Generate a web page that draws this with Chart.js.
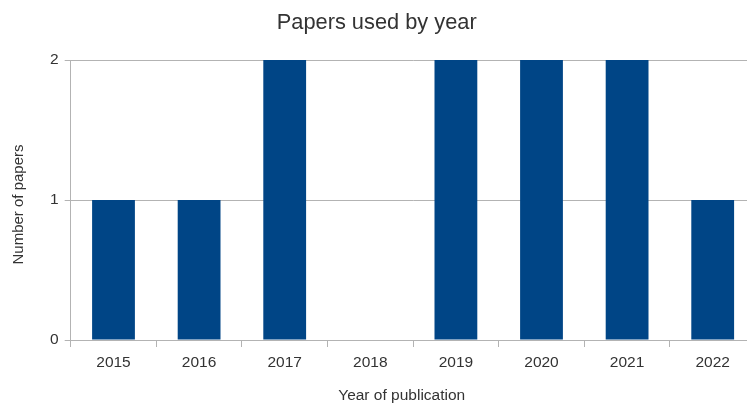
<!DOCTYPE html>
<html>
<head>
<meta charset="utf-8">
<script src="https://cdn.jsdelivr.net/npm/chart.js@4"></script>
<style>
  html, body { margin: 0; padding: 0; background: #fff; overflow: hidden; width: 747px; height: 403px; }
  #wrap { width: 760px; height: 403px; position: relative; }
</style>
</head>
<body>
<div id="wrap"><canvas id="c" width="760" height="403"></canvas></div>
<script>
const categories = ["2015", "2016", "2017", "2018", "2019", "2020", "2021", "2022"];
const papers = [1, 1, 2, 0, 2, 2, 2, 1];
const yTicks = [0, 1, 2];
const chartTitle = "Papers used by year";
const xTitle = "Year of publication";
const yTitle = "Number of papers";

const FONT = "'Liberation Sans', Arial, sans-serif";
const TEXT = "#333333";
const GRID = "#b3b3b3";

const textPlugin = {
  id: 'texts',
  afterDraw(chart) {
    const ctx = chart.ctx;
    ctx.save();
    ctx.fillStyle = TEXT;
    ctx.textAlign = 'center';
    ctx.textBaseline = 'alphabetic';
    ctx.font = "21.8px " + FONT;
    ctx.fillText(chartTitle, 376.7, 28.5);
    ctx.font = "15.5px " + FONT;
    ctx.fillText(xTitle, 401.7, 399.5);
    ctx.translate(18.5, 204.5);
    ctx.rotate(-Math.PI / 2);
    ctx.textBaseline = 'middle';
    ctx.font = "15px " + FONT;
    ctx.fillText(yTitle, 0, 0);
    ctx.restore();
  }
};

new Chart(document.getElementById('c'), {
  type: 'bar',
  data: {
    labels: categories,
    datasets: [{
      data: papers,
      backgroundColor: '#004586',
      borderWidth: 0,
      categoryPercentage: 1.0,
      barPercentage: 0.5
    }]
  },
  options: {
    responsive: false,
    maintainAspectRatio: false,
    animation: false,
    layout: { padding: { left: 0, top: 60, right: 4.5, bottom: 0 } },
    plugins: { legend: { display: false }, title: { display: false }, tooltip: { enabled: false } },
    scales: {
      x: {
        offset: true,
        grid: { offset: true, drawOnChartArea: false, drawTicks: true, tickLength: 7, color: GRID },
        border: { display: true, color: GRID },
        ticks: { color: TEXT, font: { family: FONT, size: 15.5 }, padding: 6, maxRotation: 0 },
        afterFit(scale) { scale.height = 63; }
      },
      y: {
        min: 0,
        max: 2,
        afterBuildTicks(scale) { scale.ticks = yTicks.map(v => ({ value: v })); },
        grid: { color: GRID, tickLength: 6, drawTicks: true },
        border: { display: true, color: GRID },
        ticks: { color: TEXT, font: { family: FONT, size: 15.5 }, padding: 6 },
        title: { display: false },
        afterFit(scale) { scale.width = 70.7; }
      }
    }
  },
  plugins: [textPlugin]
});
</script>
</body>
</html>
